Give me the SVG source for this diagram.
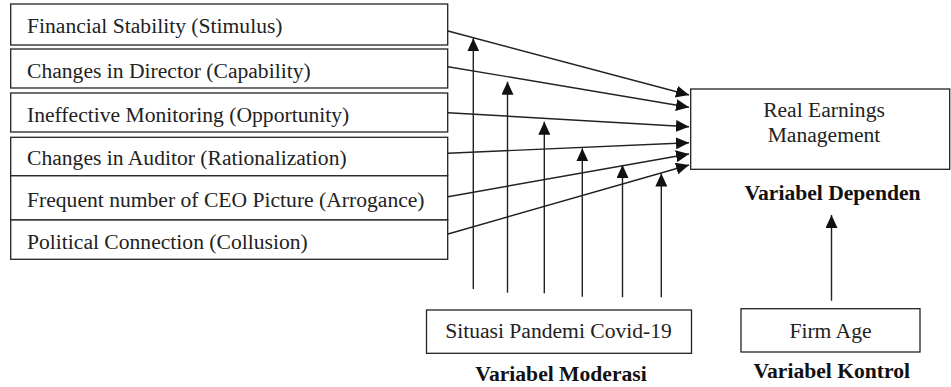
<svg xmlns="http://www.w3.org/2000/svg" width="951" height="387" viewBox="0 0 951 387">
<style>
.box{fill:#fff;stroke:#222;stroke-width:1.3}
.t{font-size:21.6px;fill:#222}
.b{font-size:21.6px;font-weight:bold;fill:#111}
.c{text-anchor:middle}
.ln{stroke:#222;stroke-width:1.4;fill:none;marker-end:url(#ah)}
</style>
<defs>
<marker id="ah" markerUnits="userSpaceOnUse" markerWidth="13" markerHeight="12" refX="13" refY="6" orient="auto">
<path d="M0,0 L13,6 L0,12 z" fill="#111"/>
</marker>
</defs>
<rect width="951" height="387" fill="#fff"/>
<g id="connectors">
<line class="ln" x1="448" y1="31" x2="689" y2="95"/>
<line class="ln" x1="448" y1="66.7" x2="689" y2="107.3"/>
<line class="ln" x1="448" y1="112.7" x2="689" y2="126.7"/>
<line class="ln" x1="448" y1="153.3" x2="689" y2="142.7"/>
<line class="ln" x1="448" y1="196.7" x2="689" y2="154"/>
<line class="ln" x1="448" y1="234" x2="689" y2="165"/>
<line class="ln" x1="473.3" y1="289" x2="473.3" y2="38.3"/>
<line class="ln" x1="507.5" y1="292.7" x2="507.5" y2="81.7"/>
<line class="ln" x1="544.3" y1="293.3" x2="544.3" y2="121.7"/>
<line class="ln" x1="582.3" y1="296.7" x2="582.3" y2="148.3"/>
<line class="ln" x1="622.5" y1="297.3" x2="622.5" y2="165"/>
<line class="ln" x1="661.3" y1="297.3" x2="661.3" y2="173.5"/>
<line class="ln" x1="831.5" y1="300.7" x2="831.5" y2="215"/>
</g>
<g font-family="Liberation Serif, Times New Roman, serif">
<g id="n1"><rect class="box" x="10.7" y="4" width="437" height="41"/><text class="t" x="27" y="33">Financial Stability (Stimulus)</text></g>
<g id="n2"><rect class="box" x="10.7" y="49" width="437" height="39"/><text class="t" x="27" y="78">Changes in Director (Capability)</text></g>
<g id="n3"><rect class="box" x="10.7" y="93" width="437" height="39"/><text class="t" x="27" y="121.7">Ineffective Monitoring (Opportunity)</text></g>
<g id="n4"><rect class="box" x="10.7" y="137.3" width="437" height="38.5"/><text class="t" x="27" y="165">Changes in Auditor (Rationalization)</text></g>
<g id="n5"><rect class="box" x="10.7" y="175.8" width="437" height="44.2"/><text class="t" x="27" y="207">Frequent number of CEO Picture (Arrogance)</text></g>
<g id="n6"><rect class="box" x="10.7" y="220" width="437" height="39.3"/><text class="t" x="27" y="249">Political Connection (Collusion)</text></g>
<g id="rem"><rect class="box" x="690.7" y="89" width="259" height="80.3"/><text class="t c" x="824" y="117.3">Real Earnings</text><text class="t c" x="824" y="141.7">Management</text><text class="b c" x="832.5" y="200">Variabel Dependen</text></g>
<g id="covid"><rect class="box" x="426.5" y="310" width="265" height="43.3"/><text class="t c" x="558.5" y="338.3">Situasi Pandemi Covid-19</text><text class="b c" x="561" y="381">Variabel Moderasi</text></g>
<g id="firmage"><rect class="box" x="741" y="308.7" width="179" height="43.3"/><text class="t c" x="830.5" y="338.3">Firm Age</text><text class="b c" x="831.7" y="378">Variabel Kontrol</text></g>
</g>
</svg>
